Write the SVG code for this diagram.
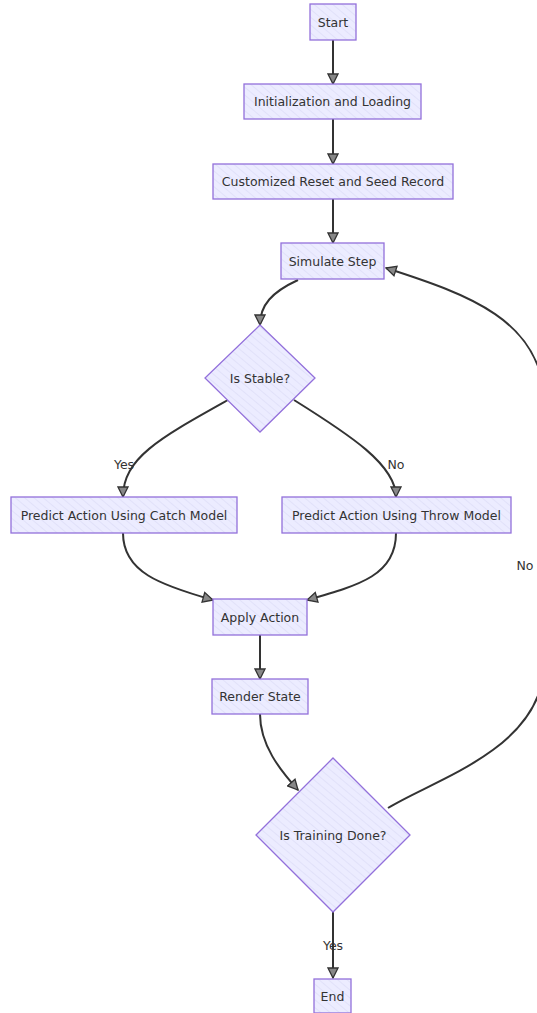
<svg xmlns="http://www.w3.org/2000/svg" width="537" height="1013" viewBox="0 0 537 1013">
<defs>
<pattern id="hatch" patternUnits="userSpaceOnUse" width="6" height="6" patternTransform="rotate(-50)">
<rect width="6" height="6" fill="#ECECFF"/>
<line x1="0" y1="0" x2="0" y2="6" stroke="#d6d6f4" stroke-width="1"/>
</pattern>
<marker id="arrh" viewBox="0 0 12 12" refX="11" refY="6" markerWidth="12" markerHeight="12" orient="auto" markerUnits="userSpaceOnUse">
<path d="M1,1 L11,6 L1,11 z" fill="#888" stroke="#333" stroke-width="1.3"/>
</marker>
</defs>
<style>
.node rect, .node polygon { fill: url(#hatch); stroke: #9370DB; stroke-width: 1.3; }
.node text { font-family: "DejaVu Sans", "Liberation Sans", sans-serif; font-size: 12.5px; fill: #333; text-anchor: middle; dominant-baseline: central; }
.edge { fill: none; stroke: #333; stroke-width: 2; marker-end: url(#arrh); }
.lbl { font-family: "DejaVu Sans", "Liberation Sans", sans-serif; font-size: 12.5px; fill: #333; text-anchor: middle; dominant-baseline: central; }
</style>
<g id="connectors">
<path class="edge" d="M333,40 L333,84"/>
<path class="edge" d="M333,119 L333,164"/>
<path class="edge" d="M333,199 L333,243"/>
<path class="edge" d="M298,280 C272,292 260,305 260,325"/>
<path class="edge" d="M228,400 C160,438 123,458 123,497"/>
<path class="edge" d="M294,400 C350,435 396,465 396,497"/>
<path class="edge" d="M123,533 C123,572 160,585 213,600"/>
<path class="edge" d="M396,533 C396,575 360,585 307,600"/>
<path class="edge" d="M260,635 L260,679"/>
<path class="edge" d="M260,714 C260,745 280,770 298,790"/>
<path class="edge" d="M388,808 C430,782 520,755 540,690 L545,400 C540,320 470,295 386,268"/>
<path class="edge" d="M333,912 L333,978"/>
<text class="lbl" x="124" y="464">Yes</text>
<text class="lbl" x="396" y="464">No</text>
<text class="lbl" x="525" y="565">No</text>
<text class="lbl" x="333" y="945">Yes</text>
</g>
<g id="start" class="node"><rect x="310" y="4" width="46" height="36"/><text x="333" y="22">Start</text></g>
<g id="init" class="node"><rect x="244" y="84" width="177" height="35"/><text x="332.5" y="101.5">Initialization and Loading</text></g>
<g id="reset" class="node"><rect x="213" y="164" width="240" height="35"/><text x="333" y="181.5">Customized Reset and Seed Record</text></g>
<g id="simulate" class="node"><rect x="281" y="243" width="103" height="36"/><text x="332.5" y="261">Simulate Step</text></g>
<g id="stable" class="node"><polygon points="260,325 315,378 260,432 205,378"/><text x="260" y="378">Is Stable?</text></g>
<g id="catch" class="node"><rect x="11" y="497" width="226" height="36"/><text x="124" y="515">Predict Action Using Catch Model</text></g>
<g id="throw" class="node"><rect x="282" y="497" width="229" height="36"/><text x="396.5" y="515">Predict Action Using Throw Model</text></g>
<g id="apply" class="node"><rect x="213" y="599" width="94" height="36"/><text x="260" y="617">Apply Action</text></g>
<g id="render" class="node"><rect x="212" y="679" width="96" height="35"/><text x="260" y="696.5">Render State</text></g>
<g id="done" class="node"><polygon points="333,758 410,835 333,912 256,835"/><text x="333" y="835">Is Training Done?</text></g>
<g id="end" class="node"><rect x="314" y="979" width="37" height="34"/><text x="332.5" y="996">End</text></g>
</svg>
